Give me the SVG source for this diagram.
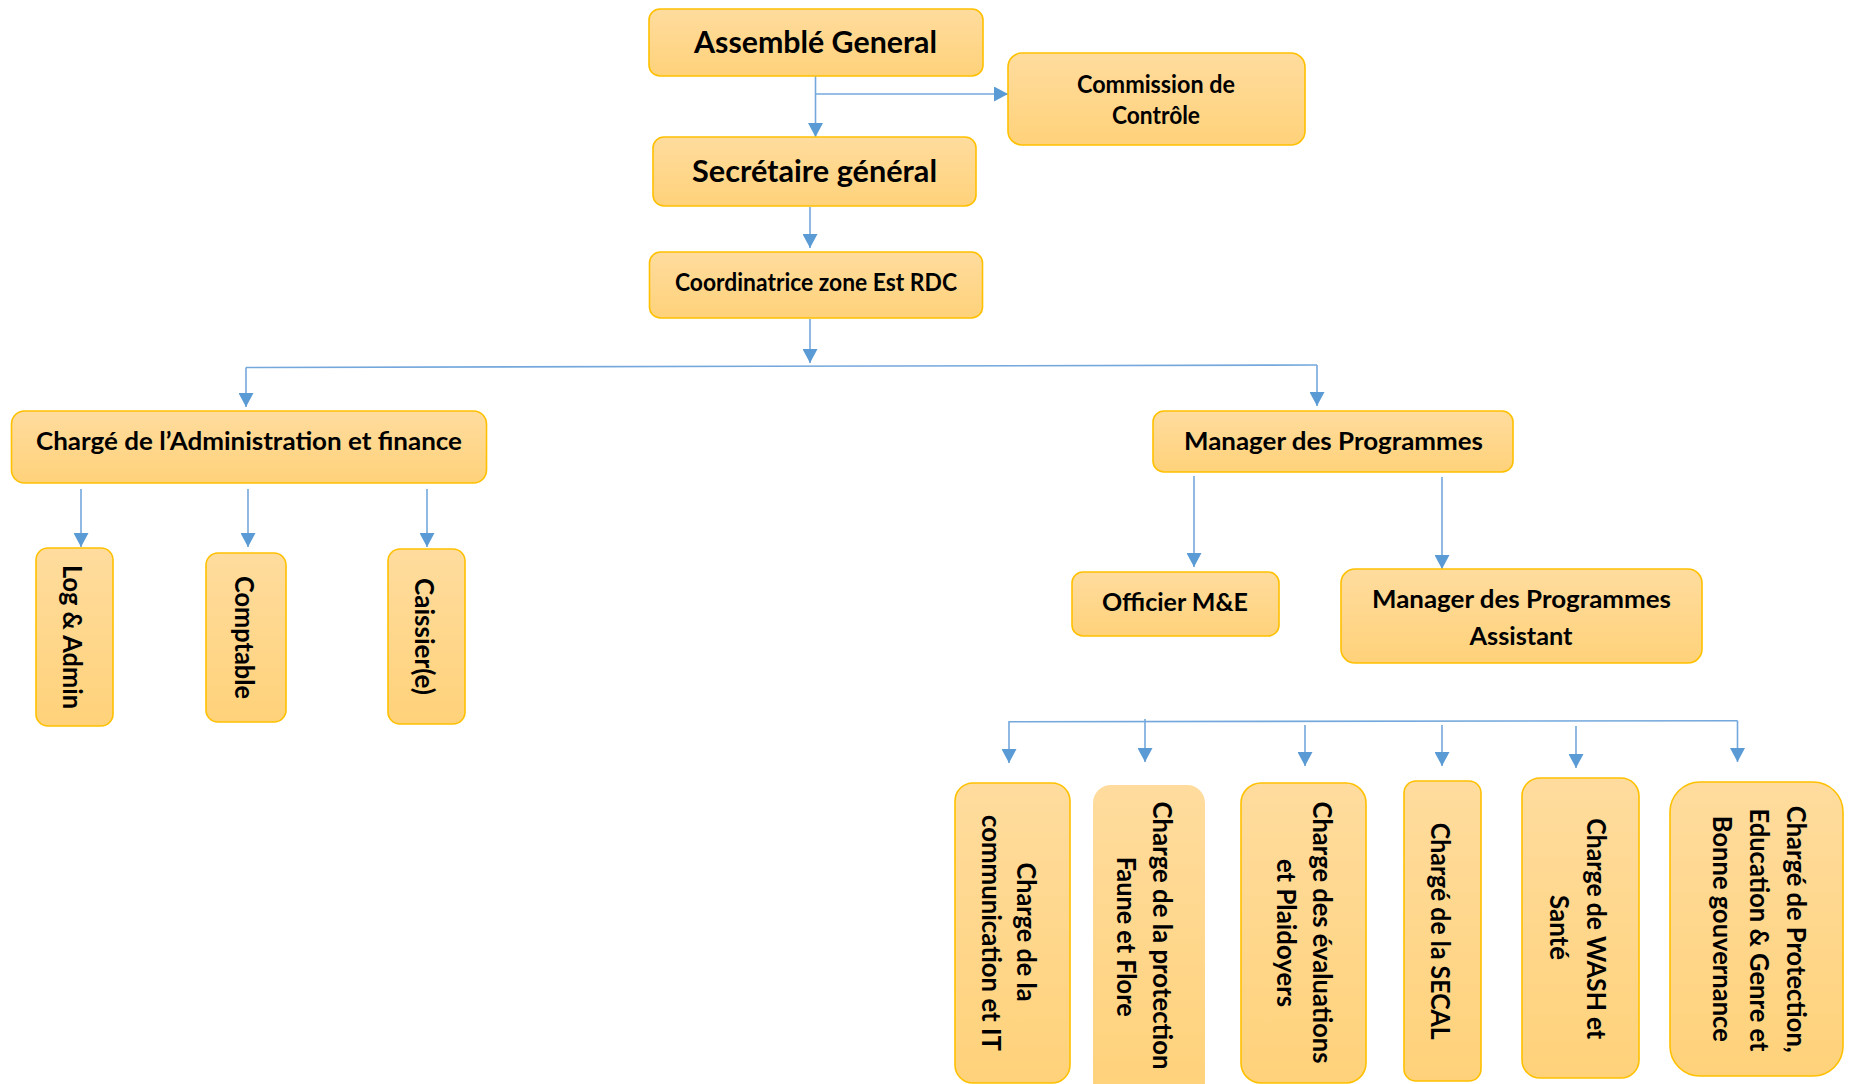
<svg xmlns="http://www.w3.org/2000/svg" width="1851" height="1084" viewBox="0 0 1851 1084">
<defs>
<linearGradient id="gold" x1="0" y1="0" x2="0" y2="1">
<stop offset="0" stop-color="#FFDC9E"/>
<stop offset="0.5" stop-color="#FFD78C"/>
<stop offset="1" stop-color="#FFD27A"/>
</linearGradient>
<marker id="arr" markerUnits="userSpaceOnUse" markerWidth="14" markerHeight="15" refX="14" refY="7.5" orient="auto">
<path d="M0,0 L14,7.5 L0,15 z" fill="#5B9BD5"/>
</marker>
<style>
.box{fill:url(#gold);stroke:#FFC000;stroke-width:1.6}
.nobox{fill:url(#gold);stroke:none}
.t{font-family:Lato,"Open Sans","Liberation Sans",sans-serif;font-weight:bold;fill:#000;text-anchor:middle}
.big{font-size:30px}
.md{font-size:24px}
.vt{font-size:27px}
.ln{fill:none;stroke:#74A8DC;stroke-width:1.6}
.la{fill:none;stroke:#74A8DC;stroke-width:1.6;marker-end:url(#arr)}
</style>
</defs>
<rect width="1851" height="1084" fill="#FFFFFF"/>

<g id="connectors">
<path class="la" d="M815.5,76 V137"/>
<path class="la" d="M815.5,94 H1008"/>
<path class="la" d="M810,207 V248"/>
<path class="la" d="M810,319 V363"/>
<path class="ln" d="M246,367.5 L1317,365"/>
<path class="la" d="M246,367.5 V407"/>
<path class="la" d="M1317,365 V406"/>
<path class="la" d="M81,489 V547"/>
<path class="la" d="M248,489 V547"/>
<path class="la" d="M427,489 V547"/>
<path class="la" d="M1194,476 V567"/>
<path class="la" d="M1442,477 V569"/>
<path class="ln" d="M1008.5,721.7 L1737.5,720.7"/>
<path class="la" d="M1009,721.5 V763"/>
<path class="la" d="M1145,719 V762"/>
<path class="la" d="M1305,725 V766"/>
<path class="la" d="M1442,725 V766"/>
<path class="la" d="M1576,726 V768"/>
<path class="la" d="M1737.5,720.7 V762"/>
</g>

<g id="assemble">
<rect class="box" x="649" y="9" width="334" height="67" rx="11"/>
<text class="t big" x="815.5" y="53" textLength="243" lengthAdjust="spacingAndGlyphs">Assemblé General</text>
</g>
<g id="commission">
<rect class="box" x="1008" y="53" width="297" height="92" rx="14"/>
<text class="t md" x="1156" y="93" textLength="158" lengthAdjust="spacingAndGlyphs">Commission de</text>
<text class="t md" x="1156" y="124" textLength="88" lengthAdjust="spacingAndGlyphs">Contrôle</text>
</g>
<g id="secretaire">
<rect class="box" x="653" y="137" width="323" height="69" rx="11"/>
<text class="t big" x="814.5" y="182" textLength="245" lengthAdjust="spacingAndGlyphs">Secrétaire général</text>
</g>
<g id="coordinatrice">
<rect class="box" x="649.5" y="252" width="333" height="66" rx="11"/>
<text class="t md" x="816" y="291" textLength="282" lengthAdjust="spacingAndGlyphs">Coordinatrice zone Est RDC</text>
</g>
<g id="admin-finance">
<rect class="box" x="11.5" y="411" width="475" height="72" rx="13"/>
<text class="t md" x="249" y="450" textLength="426" lengthAdjust="spacingAndGlyphs">Chargé de l’Administration et finance</text>
</g>
<g id="log-admin">
<rect class="box" x="36" y="548" width="77" height="178" rx="12"/>
<text class="t vt" transform="translate(63,637) rotate(90)" textLength="144" lengthAdjust="spacingAndGlyphs">Log &amp; Admin</text>
</g>
<g id="comptable">
<rect class="box" x="206" y="553" width="80" height="169" rx="12"/>
<text class="t vt" transform="translate(235,637.5) rotate(90)" textLength="123" lengthAdjust="spacingAndGlyphs">Comptable</text>
</g>
<g id="caissier">
<rect class="box" x="388" y="549" width="77" height="175" rx="12"/>
<text class="t vt" transform="translate(415,636.5) rotate(90)" textLength="117" lengthAdjust="spacingAndGlyphs">Caissier(e)</text>
</g>
<g id="manager">
<rect class="box" x="1153" y="411" width="360" height="61" rx="11"/>
<text class="t md" x="1333.5" y="450" textLength="299" lengthAdjust="spacingAndGlyphs">Manager des Programmes</text>
</g>
<g id="officier">
<rect class="box" x="1072" y="572" width="207" height="64" rx="11"/>
<text class="t md" x="1175" y="610.5" textLength="146" lengthAdjust="spacingAndGlyphs">Officier M&amp;E</text>
</g>
<g id="manager-assistant">
<rect class="box" x="1341" y="569" width="361" height="94" rx="14"/>
<text class="t md" x="1521.5" y="608" textLength="299" lengthAdjust="spacingAndGlyphs">Manager des Programmes</text>
<text class="t md" x="1521" y="645" textLength="103" lengthAdjust="spacingAndGlyphs">Assistant</text>
</g>
<g id="communication">
<rect class="box" x="955" y="783" width="115" height="300" rx="18"/>
<text class="t vt" transform="translate(1017,932) rotate(90)" textLength="139" lengthAdjust="spacingAndGlyphs">Charge de la</text>
<text class="t vt" transform="translate(982,933) rotate(90)" textLength="236" lengthAdjust="spacingAndGlyphs">communication et IT</text>
</g>
<g id="faune-flore">
<rect class="nobox" x="1093" y="785" width="112" height="315" rx="18"/>
<text class="t vt" transform="translate(1153.3,935.5) rotate(90)" textLength="268" lengthAdjust="spacingAndGlyphs">Charge de la protection</text>
<text class="t vt" transform="translate(1116.7,936.7) rotate(90)" textLength="160" lengthAdjust="spacingAndGlyphs">Faune et Flore</text>
</g>
<g id="evaluations">
<rect class="box" x="1241" y="783" width="125" height="300" rx="20"/>
<text class="t vt" transform="translate(1313,932.5) rotate(90)" textLength="262" lengthAdjust="spacingAndGlyphs">Charge des évaluations</text>
<text class="t vt" transform="translate(1277,933) rotate(90)" textLength="148" lengthAdjust="spacingAndGlyphs">et Plaidoyers</text>
</g>
<g id="secal">
<rect class="box" x="1404" y="781" width="77" height="300" rx="12"/>
<text class="t vt" transform="translate(1431,931.3) rotate(90)" textLength="217" lengthAdjust="spacingAndGlyphs">Chargé de la SECAL</text>
</g>
<g id="wash">
<rect class="box" x="1522" y="778" width="117" height="300" rx="18"/>
<text class="t vt" transform="translate(1587,928.8) rotate(90)" textLength="221" lengthAdjust="spacingAndGlyphs">Charge de WASH et</text>
<text class="t vt" transform="translate(1550,927.5) rotate(90)" textLength="65" lengthAdjust="spacingAndGlyphs">Santé</text>
</g>
<g id="protection-education">
<rect class="box" x="1670" y="782" width="173" height="294" rx="30"/>
<text class="t vt" transform="translate(1787.3,929.3) rotate(90)" textLength="247" lengthAdjust="spacingAndGlyphs">Chargé de Protection,</text>
<text class="t vt" transform="translate(1750,930) rotate(90)" textLength="243" lengthAdjust="spacingAndGlyphs">Education &amp; Genre et</text>
<text class="t vt" transform="translate(1713.3,928.8) rotate(90)" textLength="226" lengthAdjust="spacingAndGlyphs">Bonne gouvernance</text>
</g>
</svg>
